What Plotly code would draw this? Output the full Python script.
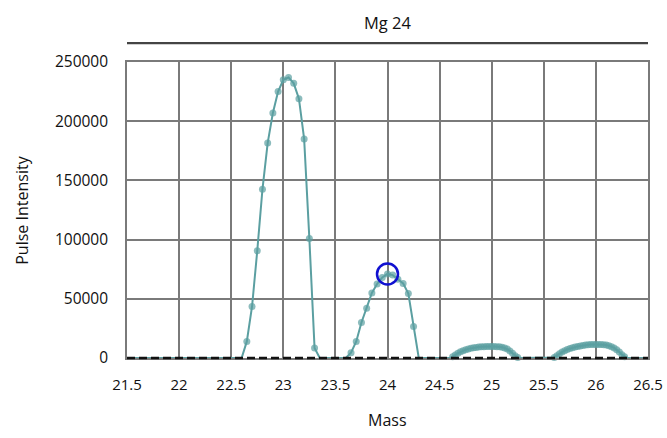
import plotly.graph_objects as go

# Mass scan across the Mg 24 window (mass units) and measured pulse intensity
scan_start = 21.5
scan_end = 26.5

peak1_mass = [22.60, 22.65, 22.70, 22.75, 22.80, 22.85, 22.90, 22.95, 23.00,
              23.05, 23.10, 23.15, 23.20, 23.25, 23.30, 23.35]
peak1_counts = [0, 14000, 43500, 90500, 142500, 181500, 207000, 225000, 235000,
                237000, 232000, 219000, 185000, 101000, 8500, 0]

peak2_mass = [23.60, 23.65, 23.70, 23.75, 23.80, 23.85, 23.90, 23.95, 24.00,
              24.05, 24.10, 24.15, 24.20, 24.25, 24.30]
peak2_counts = [0, 4500, 14000, 30000, 42000, 55000, 62500, 68000, 71000,
                70000, 66500, 63000, 54500, 26500, 0]

peak3_mass = [24.600, 24.625, 24.650, 24.675, 24.700, 24.725, 24.750, 24.775,
              24.800, 24.825, 24.850, 24.875, 24.900, 24.925, 24.950, 24.975,
              25.000, 25.025, 25.050, 25.075, 25.100, 25.125, 25.150, 25.175,
              25.200, 25.225, 25.250, 25.275]
peak3_counts = [0, 1000, 2500, 4000, 5200, 6200, 7000, 7700,
                8200, 8600, 8900, 9200, 9400, 9600, 9700, 9800,
                9800, 9700, 9600, 9400, 9000, 8400, 7500, 6000,
                4000, 2000, 500, 0]

peak4_mass = [25.575, 25.600, 25.625, 25.650, 25.675, 25.700, 25.725, 25.750,
              25.775, 25.800, 25.825, 25.850, 25.875, 25.900, 25.925, 25.950,
              25.975, 26.000, 26.025, 26.050, 26.075, 26.100, 26.125, 26.150,
              26.175, 26.200, 26.225, 26.250, 26.275, 26.300]
peak4_counts = [0, 500, 2000, 3500, 5000, 6200, 7200, 8000,
                8700, 9300, 9800, 10200, 10600, 10900, 11100, 11300,
                11400, 11500, 11500, 11400, 11200, 10900, 10400, 9600,
                8500, 7000, 5000, 2800, 1000, 0]

marked_mass = 24.00  # peak position flagged with a ring

x_ticks = [21.5, 22, 22.5, 23, 23.5, 24, 24.5, 25, 25.5, 26, 26.5]
y_ticks = [0, 50000, 100000, 150000, 200000, 250000]

mass = [scan_start] + peak1_mass + peak2_mass + peak3_mass + peak4_mass + [scan_end]
counts = [0] + peak1_counts + peak2_counts + peak3_counts + peak4_counts + [0]
marker_sizes = [7 if c > 0 else 0 for c in counts]
marked_counts = counts[mass.index(marked_mass)]

teal = "#5b9fa1"
grid = "#7a7a7a"
font = "Open Sans"

fig = go.Figure()
fig.add_trace(go.Scatter(
    x=mass, y=counts, mode="lines+markers", cliponaxis=False,
    line=dict(color=teal, width=2),
    marker=dict(color=teal, size=marker_sizes, line=dict(width=0)),
    hoverinfo="x+y", showlegend=False,
))
fig.add_trace(go.Scatter(
    x=[marked_mass], y=[marked_counts], mode="markers",
    marker=dict(symbol="circle-open", size=21, color="#1010d0",
                line=dict(width=2.5, color="#1010d0")),
    showlegend=False, hoverinfo="skip",
))

fig.update_layout(
    width=667, height=438,
    margin=dict(l=127, r=19, t=62, b=80, autoexpand=False),
    paper_bgcolor="white", plot_bgcolor="white",
    font=dict(family=font, size=15, color="#111111"),
    shapes=[
        # rule under the title
        dict(type="line", xref="paper", yref="paper",
             x0=0, x1=1, y0=1.064, y1=1.064,
             line=dict(color="#444444", width=2.2)),
        # dashed zero baseline along the bottom of the plot
        dict(type="line", xref="paper", yref="paper",
             x0=0, x1=1, y0=0, y1=0, layer="above",
             line=dict(color="#111111", width=2.4, dash="8px,4px")),
    ],
    annotations=[
        dict(text="Mg 24", xref="paper", yref="paper", x=0.5, y=1.135,
             showarrow=False, font=dict(size=16.5, family=font),
             xanchor="center", yanchor="middle"),
        dict(text="Mass", xref="paper", yref="paper", x=0.5, y=-0.21,
             showarrow=False, font=dict(size=16, family=font),
             xanchor="center", yanchor="middle"),
        dict(text="Pulse Intensity", xref="paper", yref="paper",
             x=-0.202, y=0.5, textangle=-90, showarrow=False,
             font=dict(size=16, family=font),
             xanchor="center", yanchor="middle"),
    ],
)
fig.update_xaxes(
    range=[scan_start, scan_end], tickvals=x_ticks,
    ticktext=[f"{v:g}" for v in x_ticks],
    showgrid=True, gridcolor=grid, gridwidth=1.6,
    showline=True, linecolor=grid, linewidth=1.6, mirror=True,
    zeroline=False, ticks="", ticklabelstandoff=12, automargin=False,
    tickfont=dict(size=15),
)
fig.update_yaxes(
    range=[0, 250000], tickvals=y_ticks,
    ticktext=[str(v) for v in y_ticks],
    showgrid=True, gridcolor=grid, gridwidth=1.6,
    showline=True, linecolor=grid, linewidth=1.6, mirror=True,
    zeroline=False, ticks="", ticklabelstandoff=14, automargin=False,
    tickfont=dict(size=15.5),
)

fig.write_html("out.html")
